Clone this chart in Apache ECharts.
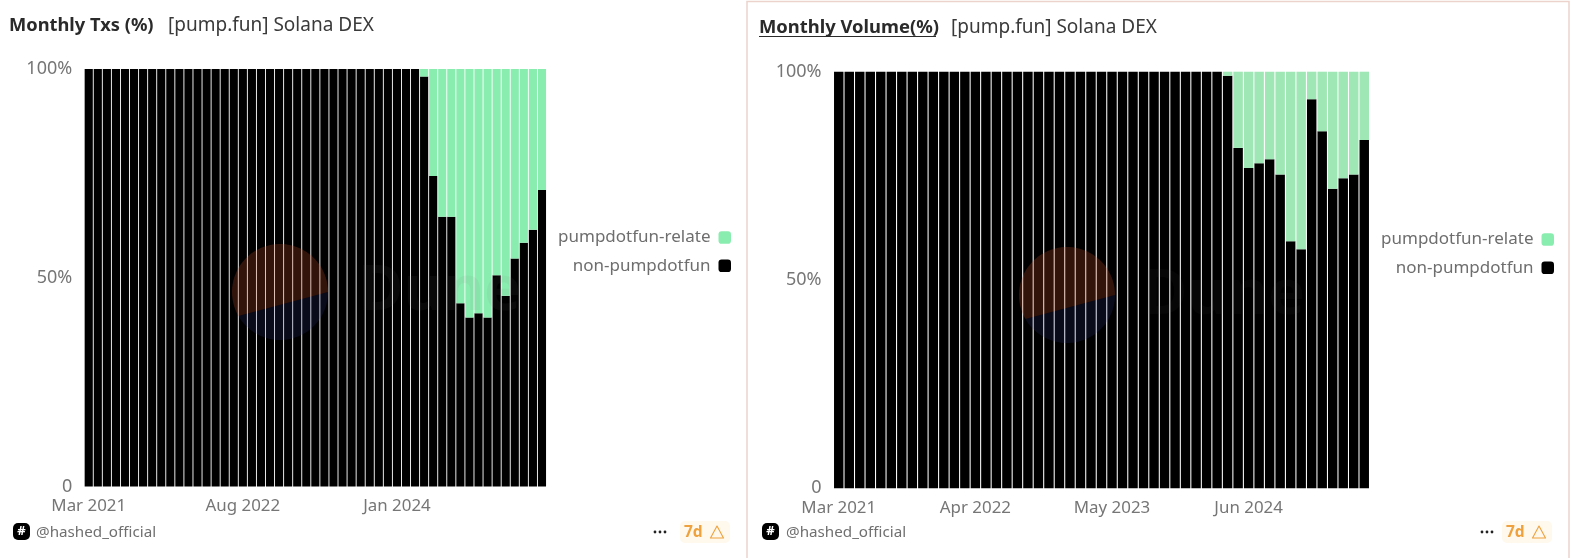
<!DOCTYPE html>
<html><head><meta charset="utf-8">
<style>html,body{margin:0;padding:0;background:#fff}#c{width:1574px;height:558px}</style>
<script src="https://cdn.jsdelivr.net/npm/echarts@6/dist/echarts.min.js"></script>
</head><body><div id="c"></div>
<script>
const months = ['Mar 2021','Apr 2021','May 2021','Jun 2021','Jul 2021','Aug 2021','Sep 2021','Oct 2021','Nov 2021','Dec 2021',
'Jan 2022','Feb 2022','Mar 2022','Apr 2022','May 2022','Jun 2022','Jul 2022','Aug 2022','Sep 2022','Oct 2022','Nov 2022','Dec 2022',
'Jan 2023','Feb 2023','Mar 2023','Apr 2023','May 2023','Jun 2023','Jul 2023','Aug 2023','Sep 2023','Oct 2023','Nov 2023','Dec 2023',
'Jan 2024','Feb 2024','Mar 2024','Apr 2024','May 2024','Jun 2024','Jul 2024','Aug 2024','Sep 2024','Oct 2024','Nov 2024','Dec 2024',
'Jan 2025','Feb 2025','Mar 2025','Apr 2025','May 2025'];
const txsOther = [100,100,100,100,100,100,100,100,100,100,100,100,100,100,100,100,100,100,100,100,100,100,100,100,100,100,100,100,100,100,100,100,100,100,100,100,100,
98.2,74.4,64.6,64.6,43.9,40.5,41.5,40.5,50.6,45.7,54.6,58.4,61.5,71];
const txsPump = [0,0,0,0,0,0,0,0,0,0,0,0,0,0,0,0,0,0,0,0,0,0,0,0,0,0,0,0,0,0,0,0,0,0,0,0,0,
1.8,25.6,35.4,35.4,56.1,59.5,58.5,59.5,49.4,54.3,45.4,41.6,38.5,29];
const volOther = [100,100,100,100,100,100,100,100,100,100,100,100,100,100,100,100,100,100,100,100,100,100,100,100,100,100,100,100,100,100,100,100,100,100,100,100,100,
99,81.7,76.9,78,79,75.3,59.3,57.4,93.4,85.7,71.9,74.4,75.3,83.6];
const volPump = [0,0,0,0,0,0,0,0,0,0,0,0,0,0,0,0,0,0,0,0,0,0,0,0,0,0,0,0,0,0,0,0,0,0,0,0,0,
1,18.3,23.1,22,21,24.7,40.7,42.6,6.6,14.3,28.1,25.6,24.7,16.4];
const seriesNames = ['pumpdotfun-related','non-pumpdotfun'];
const titles = ['Monthly Txs (%)','Monthly Volume(%)'];
const subtitle = '[pump.fun] Solana DEX';
const handle = '@hashed_official';

const FONT = '"Noto Sans", sans-serif';
const TICK = '#767676';
const chart = echarts.init(document.getElementById('c'));

const grids = [
  {left:84.2, right:1574-546.5, top:69, height:417.5},
  {left:833.5, right:1574-1369.5, top:71.7, height:416.5}
];
const greens = ['#8aedb0','#9fe8b5'];
const xInterval = [16,12];

function axisX(i){return {gridIndex:i,type:'category',data:months,
  axisTick:{show:false},axisLine:{show:false},
  axisLabel:{interval:xInterval[i],color:TICK,fontFamily:FONT,fontSize:16.9,margin:11,hideOverlap:false}};}
function axisY(i){return {gridIndex:i,type:'value',min:0,max:100,interval:50,
  axisLine:{show:false},axisTick:{show:false},splitLine:{show:false},
  axisLabel:{color:TICK,fontFamily:FONT,fontSize:18,margin:12,padding:[0,0,3,0],
    formatter:v=>v===0?'0':v+'%'}};}
function bar(name,data,i,color){return {name,type:'bar',stack:'s'+i,xAxisIndex:i,yAxisIndex:i,data,
  barCategoryGap:'10%',itemStyle:{color},silent:true,animation:false};}
function legend(i,right,top){return {show:true,orient:'vertical',align:'right',right,top,
  itemWidth:12.5,itemHeight:12.5,itemGap:11.3,icon:'roundRect',padding:0,selectedMode:false,
  data:seriesNames.map(n=>({name:n})),
  textStyle:{color:'#6e6e6e',fontFamily:FONT,fontSize:17,width:158,overflow:'truncate',ellipsis:'',padding:[0,3,0,0],lineHeight:16}};}

function txt(x,y,text,fontSize,fill,weight,align){return {type:'text',z:100,x,y,
  style:{text,fontSize,fill,fontFamily:FONT,fontWeight:weight||'normal',align:align||'left',verticalAlign:'middle'}};}
function arc(cx,cy,r,a0,a1){const p=[];for(let k=0;k<=48;k++){const t=(a0+(a1-a0)*k/48)*Math.PI/180;p.push([cx+r*Math.cos(t),cy+r*Math.sin(t)]);}return p;}
function wm(cx,cy,tx,ty,textAlpha){
  return [
   {type:'polygon',z:100,silent:true,shape:{points:arc(cx,cy,48,150,360)},style:{fill:'rgba(205,80,40,0.25)'}},
   {type:'polygon',z:100,silent:true,shape:{points:arc(cx,cy,48,0,150)},style:{fill:'rgba(50,60,150,0.18)'}},
   {type:'text',z:100,x:tx,y:ty,silent:true,style:{text:'Dune',fontSize:62,fill:'rgba(120,120,120,'+textAlpha+')',fontFamily:FONT,fontWeight:'bold',verticalAlign:'middle'}}
  ];
}
function dots(x,y){return [0,5,10].map(d=>({type:'circle',z:100,silent:true,shape:{cx:x+d,cy:y,r:1.4},style:{fill:'#222'}}));}
function footer(bx,hx,dx,chipx){
  return [
   {type:'rect',z:100,shape:{x:bx,y:523,width:17,height:17,r:5},style:{fill:'#000'}},
   {type:'text',z:101,x:bx+8.5,y:531.5,style:{text:'#',fontSize:13,fontWeight:'bold',fill:'#fff',fontFamily:FONT,align:'center',verticalAlign:'middle'}},
   txt(hx,533,handle,15.2,'#707070'),
   ...dots(dx,532),
   {type:'rect',z:99,shape:{x:chipx,y:521,width:50,height:22,r:5},style:{fill:'#fff8ed'}},
   txt(chipx+4,533,'7d',15.5,'#eea13c','bold'),
   {type:'polygon',z:100,shape:{points:[[chipx+37,526],[chipx+43.5,538],[chipx+30.5,538]]},style:{fill:'none',stroke:'#eea13c',lineWidth:1.1,lineJoin:'round'}}
  ];
}

chart.setOption({
  backgroundColor:'#fff',animation:false,
  grid:grids.map(g=>({left:g.left,right:g.right,top:g.top,height:g.height})),
  xAxis:[axisX(0),axisX(1)],
  yAxis:[axisY(0),axisY(1)],
  legend:[legend(0,1574-731,229),legend(1,1574-1554,231)],
  color:['#000'],
  series:[
    bar(seriesNames[1],txsOther,0,'#000'),
    bar(seriesNames[0],txsPump,0,greens[0]),
    bar(seriesNames[1],volOther,1,'#000'),
    bar(seriesNames[0],volPump,1,greens[1])
  ],
  graphic:{elements:[
    {type:'rect',z:1,shape:{x:747,y:1.5,width:822,height:570},style:{fill:'none',stroke:'#ecd3cb',lineWidth:1.5},silent:true},
    txt(9,26,titles[0],18.3,'#2a2a2a','bold'),
    txt(168,26,subtitle,19,'#3a3a3a'),
    txt(759,28,titles[1],18.4,'#2a2a2a','bold'),
    {type:'line',z:100,shape:{x1:759,y1:36.5,x2:936,y2:36.5},style:{stroke:'#2a2a2a',lineWidth:1.2}},
    txt(951,28,subtitle,19,'#3a3a3a'),
    ...wm(280,292,358,292,0.08),
    ...wm(1067,295,1142,296,0.05),
    ...footer(13,36,655,680),
    ...footer(762,786,1482,1502)
  ]}
});
</script></body></html>
